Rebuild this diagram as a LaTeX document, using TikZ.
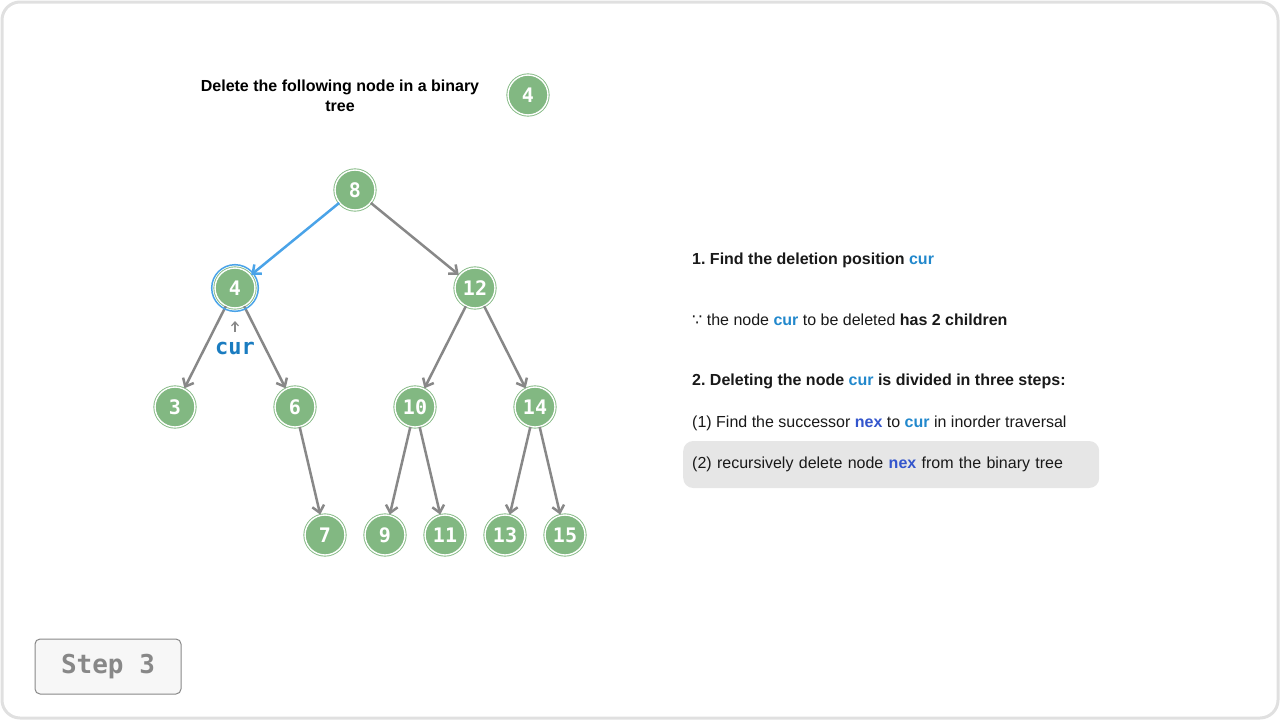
\documentclass[tikz,border=0pt]{standalone}
\usepackage{fontspec}
\setmainfont{Liberation Sans}
\newfontfamily\numfont{DejaVu Sans Mono}
\newfontfamily\symfont{DejaVu Sans}
\usetikzlibrary{positioning,arrows.meta}
\definecolor{nodegreen}{HTML}{82B882}
\definecolor{edgegray}{HTML}{888888}
\definecolor{curblue}{HTML}{2288CC}
\definecolor{nexblue}{HTML}{3355CC}
\definecolor{ringblue}{HTML}{4AA3E8}
\definecolor{labelblue}{HTML}{1A7CC0}
\definecolor{boxgray}{HTML}{E6E6E6}
\definecolor{stepfill}{HTML}{F7F7F7}
\frenchspacing

\begin{document}
\begin{tikzpicture}[x=1pt,y=-1pt,>={Straight Barb[length=7pt,width=12pt]}]
\tikzstyle{tnode}=[circle, minimum size=40pt, inner sep=0pt, fill=nodegreen, draw=nodegreen, double=white, line width=0.9pt, double distance=1.4pt, text=white, font=\numfont\bfseries\fontsize{20}{20}\selectfont]
\tikzstyle{link}=[->, draw=edgegray, line width=2.5pt, shorten >=0.5pt]
\tikzstyle{txt}=[anchor=west, inner sep=0pt, text=black!90, font=\fontsize{16}{19}\selectfont]
\useasboundingbox (0,0) rectangle (1280,720);
\draw[black!12, line width=3pt, rounded corners=18pt] (2,2) rectangle (1278,718);
% title
\node[font=\bfseries\fontsize{16}{20}\selectfont, align=center] (title) at (340,96) {Delete the following node in a binary\\tree};
\node[tnode] (del) at (528,95) {4};
% tree
\foreach \name/\x/\y in {8/355/190, 4/235/288, 12/475/288, 3/175/407, 6/295/407, 10/415/407, 14/535/407, 7/325/535, 9/385/535, 11/445/535, 13/505/535, 15/565/535}
    \node[tnode] (n\name) at (\x,\y) {\name};
\foreach \a/\b in {8/12, 4/3, 4/6, 12/10, 12/14, 6/7, 10/9, 10/11, 14/13, 14/15}
    \draw[link] (n\a) -- (n\b);
\draw[link, draw=ringblue] (n8) -- (n4);
\draw[ringblue, line width=1.5pt] (n4.center) circle (23.3);
\node[text=labelblue, font=\numfont\bfseries\fontsize{22}{22}\selectfont] (curlbl) at (235,348) {cur};
\coordinate (curtip) at (235,321);
\draw[->, edgegray, line width=1.2pt, >={Straight Barb[length=4pt,width=7pt]}, shorten <=6pt] (curlbl.north) -- (curtip);
% steps
\node[txt, font=\bfseries\fontsize{16}{19}\selectfont] (s1) at (692,260) {1. Find the deletion position \textcolor{curblue}{cur}};
\node[txt] (s2) at (692,320) {{\symfont ∵} the node \textcolor{curblue}{\bfseries cur} to be deleted \textbf{has 2 children}};
\node[txt, font=\bfseries\fontsize{16}{19}\selectfont] (s3) at (692,381) {2. Deleting the node \textcolor{curblue}{cur} is divided in three steps:};
\node[txt] (s4) at (692,423) {(1) Find the successor \textcolor{nexblue}{\bfseries nex} to \textcolor{curblue}{\bfseries cur} in inorder traversal};
\node[txt, fill=boxgray, rounded corners=10pt, inner xsep=9pt, minimum height=47pt, text width=398pt, align=left] (s5) at (683,464.5) {(2) recursively delete node \textcolor{nexblue}{\bfseries nex} from the binary tree};
% step label
\node[draw=edgegray, line width=1pt, fill=stepfill, rounded corners=5pt, minimum width=146pt, minimum height=55pt, text=edgegray, font=\numfont\bfseries\fontsize{26}{26}\selectfont] (step) at (108,666.5) {Step 3};
\end{tikzpicture}
\end{document}
